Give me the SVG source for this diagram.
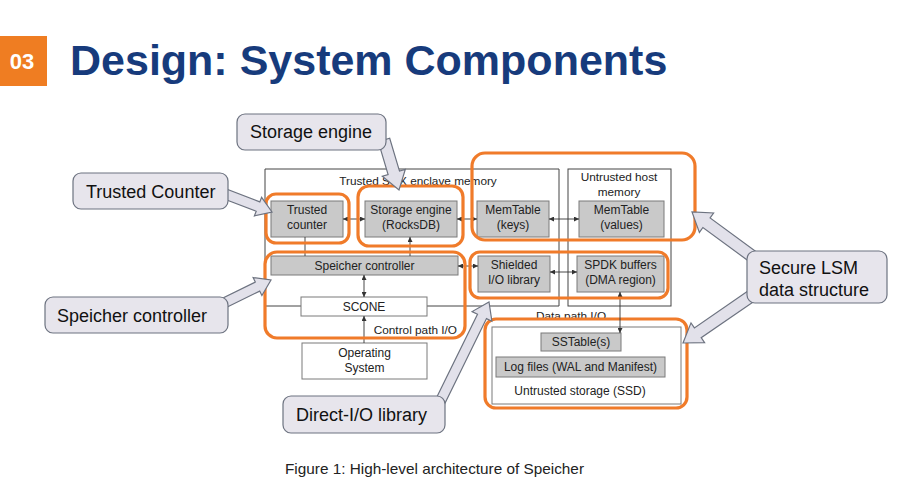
<svg xmlns="http://www.w3.org/2000/svg" width="900" height="482" viewBox="0 0 900 482">
<defs>
<style>
.t{font-family:"Liberation Sans",Arial,sans-serif;fill:#222;font-size:12px;text-anchor:middle}
.lbl{font-family:"Liberation Sans",Arial,sans-serif;fill:#222;font-size:11.8px}
.box{fill:#c9c9c9;stroke:#7a7a7a;stroke-width:1}
.wbox{fill:#fff;stroke:#7a7a7a;stroke-width:1}
.frame{fill:none;stroke:#444;stroke-width:1}
.hl{fill:none;stroke:#f07b2a;stroke-width:3.2}
.co{fill:#e7e5ec;stroke:#6d7380;stroke-width:1.2}
.ct{font-family:"Liberation Sans",Arial,sans-serif;fill:#111;font-size:18px}
.ba{fill:#e2e1ea;stroke:#6d7380;stroke-width:1.2;stroke-linejoin:miter}
.c{stroke:#333;stroke-width:0.9;fill:none}
</style>
<marker id="ah" viewBox="0 0 6 6" refX="6" refY="3" markerWidth="5" markerHeight="5" orient="auto-start-reverse" markerUnits="userSpaceOnUse">
<path d="M0,0 L6,3 L0,6 z" fill="#333"/>
</marker>
</defs>
<rect width="900" height="482" fill="#fff"/>

<g id="title">
<rect x="0" y="36" width="47" height="50" fill="#ef7d22"/>
<text x="22" y="69" font-family="Liberation Sans,Arial,sans-serif" font-weight="bold" font-size="22" fill="#fff" text-anchor="middle">03</text>
<text x="70" y="75" font-family="Liberation Sans,Arial,sans-serif" font-weight="bold" font-size="43" fill="#173b7c">Design: System Components</text>
</g>

<g id="trusted-frame">
<path class="frame" d="M265,306 L265,169 L559,169 L559,306"/>
<text class="lbl" x="418" y="185" text-anchor="middle">Trusted SGX enclave memory</text>
</g>
<g id="untrusted-host-frame">
<rect class="frame" x="568" y="169" width="103" height="137"/>
<text class="lbl" x="619" y="181" text-anchor="middle">Untrusted host</text>
<text class="lbl" x="619" y="196" text-anchor="middle">memory</text>
</g>

<g id="trusted-counter"><rect class="box" x="271" y="201" width="72" height="36"/><text class="t" x="307" y="214">Trusted</text><text class="t" x="307" y="229">counter</text></g>
<g id="storage-engine"><rect class="box" x="365" y="201" width="92" height="36"/><text class="t" x="411" y="214">Storage engine</text><text class="t" x="411" y="229">(RocksDB)</text></g>
<g id="memtable-keys"><rect class="box" x="477" y="201" width="72" height="36"/><text class="t" x="513" y="214">MemTable</text><text class="t" x="513" y="229">(keys)</text></g>
<g id="memtable-values"><rect class="box" x="579" y="201" width="85" height="36"/><text class="t" x="621.5" y="214">MemTable</text><text class="t" x="621.5" y="229">(values)</text></g>
<g id="speicher-controller"><rect class="box" x="271" y="256" width="187" height="19"/><text class="t" x="364.5" y="270">Speicher controller</text></g>
<g id="shielded-io"><rect class="box" x="478" y="256" width="72" height="36"/><text class="t" x="514" y="269">Shielded</text><text class="t" x="514" y="284">I/O library</text></g>
<g id="spdk-buffers"><rect class="box" x="577" y="256" width="87" height="36"/><text class="t" x="620.5" y="269">SPDK buffers</text><text class="t" x="620.5" y="284">(DMA region)</text></g>
<g id="scone"><path class="frame" d="M265,306 L301,306 M427,306 L559,306"/><rect class="wbox" x="301" y="297" width="126" height="19"/><text class="t" x="364" y="311">SCONE</text></g>
<g id="operating-system"><rect class="wbox" x="302" y="343" width="125" height="36"/><text class="t" x="364.5" y="357">Operating</text><text class="t" x="364.5" y="372">System</text></g>
<text class="lbl" x="457" y="334" text-anchor="end">Control path I/O</text>
<text class="lbl" x="571" y="320" text-anchor="middle">Data path I/O</text>

<g id="untrusted-storage">
<rect x="485" y="319" width="202" height="89" rx="11" fill="#fff" stroke="#f07b2a" stroke-width="3.2"/>
<rect class="wbox" x="492" y="327" width="189" height="77"/>
<text class="t" x="580" y="395">Untrusted storage (SSD)</text>
</g>
<g id="sstables"><rect class="box" x="541" y="333" width="80" height="18"/><text class="t" x="581" y="346">SSTable(s)</text></g>
<g id="log-files"><rect class="box" x="496" y="357" width="169" height="20"/><text class="t" x="580.5" y="371">Log files (WAL and Manifest)</text></g>

<g id="connectors">
<line class="c" x1="343" y1="219" x2="365" y2="219" marker-start="url(#ah)" marker-end="url(#ah)"/>
<line class="c" x1="457" y1="219" x2="477" y2="219" marker-start="url(#ah)" marker-end="url(#ah)"/>
<line class="c" x1="549" y1="219" x2="579" y2="219" marker-start="url(#ah)" marker-end="url(#ah)"/>
<line class="c" x1="305" y1="237" x2="305" y2="256"/>
<line class="c" x1="410" y1="237" x2="410" y2="256" marker-start="url(#ah)"/>
<line class="c" x1="364" y1="275" x2="364" y2="297" marker-start="url(#ah)" marker-end="url(#ah)"/>
<line class="c" x1="458" y1="266" x2="478" y2="266" marker-start="url(#ah)" marker-end="url(#ah)"/>
<line class="c" x1="550" y1="272" x2="577" y2="272" marker-start="url(#ah)" marker-end="url(#ah)"/>
<line class="c" x1="620" y1="292" x2="620" y2="333" marker-start="url(#ah)" marker-end="url(#ah)"/>
<line class="c" x1="364" y1="343" x2="364" y2="316" marker-end="url(#ah)"/>
</g>

<g id="highlights">
<rect class="hl" x="266" y="194" width="83" height="49" rx="10"/>
<rect class="hl" x="358" y="186" width="105" height="60" rx="11"/>
<rect class="hl" x="472" y="153" width="223" height="87" rx="13"/>
<rect class="hl" x="265" y="252" width="200" height="86" rx="12"/>
<rect class="hl" x="470" y="252" width="198" height="46" rx="10"/>
</g>

<g id="callout-arrows">
<polygon class="ba" points="218.2,196.7 256.2,211.3 254.4,215.9 272,212 261.6,197.3 259.8,201.9 221.8,187.3"/>
<polygon class="ba" points="222.2,309.5 259.7,291.1 261.9,295.6 271,280 253.1,277.6 255.3,282.1 217.8,300.5"/>
<polygon class="ba" points="378.3,141.7 388.1,174.5 382.3,176.2 399,190 405.3,169.4 399.5,171.1 389.7,138.3"/>
<polygon class="ba" points="763.6,257.2 710.1,217.9 713.6,213 692,212 699.4,232.4 702.9,227.5 756.4,266.8"/>
<polygon class="ba" points="756.6,285.1 694.4,327.9 691,322.9 683,343 704.6,342.7 701.2,337.7 763.4,294.9"/>
<polygon class="ba" points="444.5,404.2 486.5,318.6 491.9,321.2 489,302 472.1,311.6 477.5,314.2 435.5,399.8"/>
</g>

<g id="callout-storage-engine"><rect class="co" x="237" y="114" width="149" height="36" rx="8"/><text class="ct" x="250" y="138">Storage engine</text></g>
<g id="callout-trusted-counter"><rect class="co" x="73" y="173" width="155" height="36" rx="8"/><text class="ct" x="86" y="198">Trusted Counter</text></g>
<g id="callout-speicher-controller"><rect class="co" x="45" y="297" width="183" height="36" rx="8"/><text class="ct" x="57" y="322">Speicher controller</text></g>
<g id="callout-secure-lsm"><rect class="co" x="747" y="251" width="140" height="52" rx="8"/><text class="ct" x="759" y="274">Secure LSM</text><text class="ct" x="759" y="296">data structure</text></g>
<g id="callout-direct-io"><rect class="co" x="283" y="396" width="162" height="37" rx="8"/><text class="ct" x="296" y="421">Direct-I/O library</text></g>

<text x="285" y="474" font-family="Liberation Sans,Arial,sans-serif" font-size="15" fill="#222" textLength="299" lengthAdjust="spacingAndGlyphs">Figure 1: High-level architecture of Speicher</text>
</svg>
